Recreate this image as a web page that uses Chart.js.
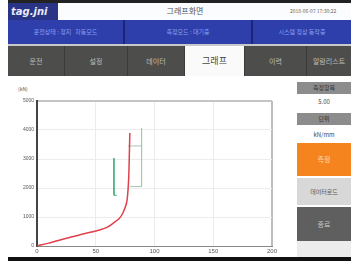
<!DOCTYPE html>
<html>
<head>
<meta charset="utf-8">
<script src="https://cdn.jsdelivr.net/npm/chart.js@4/dist/chart.umd.min.js"></script>
<style>
  body { margin: 0; width: 351px; height: 261px; background: #fff; position: relative; overflow: hidden;
         font-family: "Noto Sans CJK KR", "Noto Sans", sans-serif; }
  .abs { position: absolute; box-sizing: border-box; }
  .topbar { left: 8px; top: 0; width: 343px; height: 20px; background: #fbfcfd; border-top: 3px solid #222; }
  .logo { left: 8px; top: 3px; width: 50px; height: 17px; background: #2a3486; color: #e8eaf6;
          font: italic bold 10px "DejaVu Sans", sans-serif; line-height: 17px; padding-left: 3px; }
  .title { left: 150px; top: 4px; width: 70px; text-align: center; font-size: 8px; color: #555; line-height: 14px; }
  .clock { left: 290px; top: 5px; width: 61px; font-size: 5px; color: #666; line-height: 12px; white-space: nowrap; }
  .bluebar { left: 8px; top: 20px; width: 343px; height: 24px; background: #2e3eab; }
  .seg { top: 20px; height: 24px; color: #8fa0ee; font-size: 6px; line-height: 24px; text-align: center; border-right: 2px solid #1c2578; }
  .tabbar { left: 8px; top: 44px; width: 343px; height: 32px; background: #4d4d4b; border-top: 2px solid #c9c9c9; }
  .tab { top: 46px; height: 30px; color: #bdbdb8; font-size: 7px; line-height: 30px; text-align: center; border-right: 1px solid #3a3a38; }
  .tab.on { background: #fafafa; color: #444; font-size: 9px; }
  .btn { left: 297px; width: 54px; text-align: center; font-size: 6px; }
  .bottom { left: 8px; top: 257px; width: 343px; height: 4px; background: #111; }
  .unit { left: 18px; top: 85px; font-size: 5px; color: #555; }
</style>
</head>
<body>
<div class="abs topbar"></div>
<div class="abs logo">tag.jni</div>
<div class="abs title">그래프화면</div>
<div class="abs clock">2018-06-07 17:30:22</div>

<div class="abs bluebar"></div>
<div class="abs seg" style="left:8px;width:117px">운전상태 : 정지 &nbsp; 자동모드</div>
<div class="abs seg" style="left:125px;width:128px">측정모드 : 대기중</div>
<div class="abs seg" style="left:253px;width:98px;border-right:none">시스템 정상 동작중</div>

<div class="abs tabbar"></div>
<div class="abs tab" style="left:8px;width:57px">운전</div>
<div class="abs tab" style="left:65px;width:63px">설정</div>
<div class="abs tab" style="left:128px;width:57px">데이터</div>
<div class="abs tab on" style="left:185px;width:60px">그래프</div>
<div class="abs tab" style="left:245px;width:62px">이력</div>
<div class="abs tab" style="left:307px;width:44px;border-right:none">알람리스트</div>

<div class="abs btn" style="top:82px;height:12px;background:#8c8c8c;color:#333;line-height:12px">측정항목</div>
<div class="abs btn" style="top:97px;height:10px;background:#fff;color:#444;line-height:10px">5.00</div>
<div class="abs btn" style="top:113px;height:12px;background:#8c8c8c;color:#333;line-height:12px">단위</div>
<div class="abs btn" style="top:130px;height:10px;background:#fff;color:#444;line-height:10px">kN/mm</div>
<div class="abs btn" style="top:143px;height:33px;background:#f5841f;color:#ffd9b0;line-height:33px;font-size:7px">측정</div>
<div class="abs btn" style="top:178px;height:27px;background:#d8d8d8;color:#555;line-height:27px">데이터로드</div>
<div class="abs btn" style="top:207px;height:34px;background:#5f5f5f;color:#c8c8c8;line-height:34px;font-size:7px">종료</div>
<div class="abs btn" style="top:241px;height:16px;background:#ececec"></div>

<div class="abs unit">(kN)</div>
<div class="abs" style="left:8px;top:78px;width:282px;height:180px"><canvas id="graph"></canvas></div>
<div class="abs bottom"></div>

<script>
// axis ticks
const xTicks = [0, 50, 100, 150, 200];
const yTicks = [0, 1000, 2000, 3000, 4000, 5000];

// measured load curve
const curveX = [0, 10, 25, 40, 54, 60, 65, 70, 73, 76, 77, 78, 78.5, 79];
const curveY = [0, 100, 270, 420, 560, 650, 790, 950, 1130, 1450, 1700, 2300, 3000, 3900];

// lower limit bracket (green)
const lowX = [65.5, 65.5, 68];
const lowY = [3030, 1750, 1750];

// upper limit bracket (grey)
const upX = [89, 89, 79];
const upY = [4060, 2050, 2050];
const upMidX = [77.5, 89];
const upMidY = [3450, 3450];

const pts = (xs, ys) => xs.map((x, i) => ({ x: x, y: ys[i] }));

const ctx = document.getElementById('graph').getContext('2d');
new Chart(ctx, {
    type: 'line',
    data: {
        datasets: [{
            data: pts(curveX, curveY),
            borderColor: '#e0404a',
            borderWidth: 1.5,
            pointRadius: 0,
            tension: 0.3
        },
        {
            data: pts(lowX, lowY),
            borderColor: '#49b27a',
            borderWidth: 1,
            pointRadius: 0
        },
        {
            data: pts(upX, upY),
            borderColor: '#a9c4b4',
            borderWidth: 1,
            pointRadius: 0
        },
        {
            data: pts(upMidX, upMidY),
            borderColor: '#a9c4b4',
            borderWidth: 1,
            pointRadius: 0
        }]
    },
    options: {
        responsive: true,
        maintainAspectRatio: false,
        animation: false,
        layout: { padding: { top: 23, right: 18, left: 0, bottom: 0 } },
        plugins: { legend: { display: false }, tooltip: { enabled: false } },
        scales: {
            x: {
                type: 'linear',
                min: 0,
                max: 200,
                afterBuildTicks: (s) => { s.ticks = xTicks.map(v => ({ value: v })); },
                afterFit: (s) => { s.height = 12; },
                ticks: { font: { size: 6 }, color: '#555', padding: 2, maxRotation: 0,
                         callback: (v) => String(v) },
                grid: {
                    drawTicks: false,
                    color: (c) => c.tick && c.tick.value === 200 ? '#bdbdbd' : '#ececec',
                    lineWidth: (c) => c.tick && c.tick.value === 200 ? 2 : 1
                },
                border: { color: '#888', width: 1 }
            },
            y: {
                min: 0,
                max: 5000,
                afterBuildTicks: (s) => { s.ticks = yTicks.map(v => ({ value: v })); },
                afterFit: (s) => { s.width = 29; },
                ticks: { font: { size: 5 }, color: '#555', padding: 3,
                         callback: (v) => String(v) },
                grid: {
                    drawTicks: false,
                    color: (c) => c.tick && c.tick.value === 5000 ? '#c4c4c4' : '#ececec',
                    lineWidth: (c) => c.tick && c.tick.value === 5000 ? 2 : 1
                },
                border: { color: '#444', width: 2 }
            }
        }
    }
});
</script>
</body>
</html>
